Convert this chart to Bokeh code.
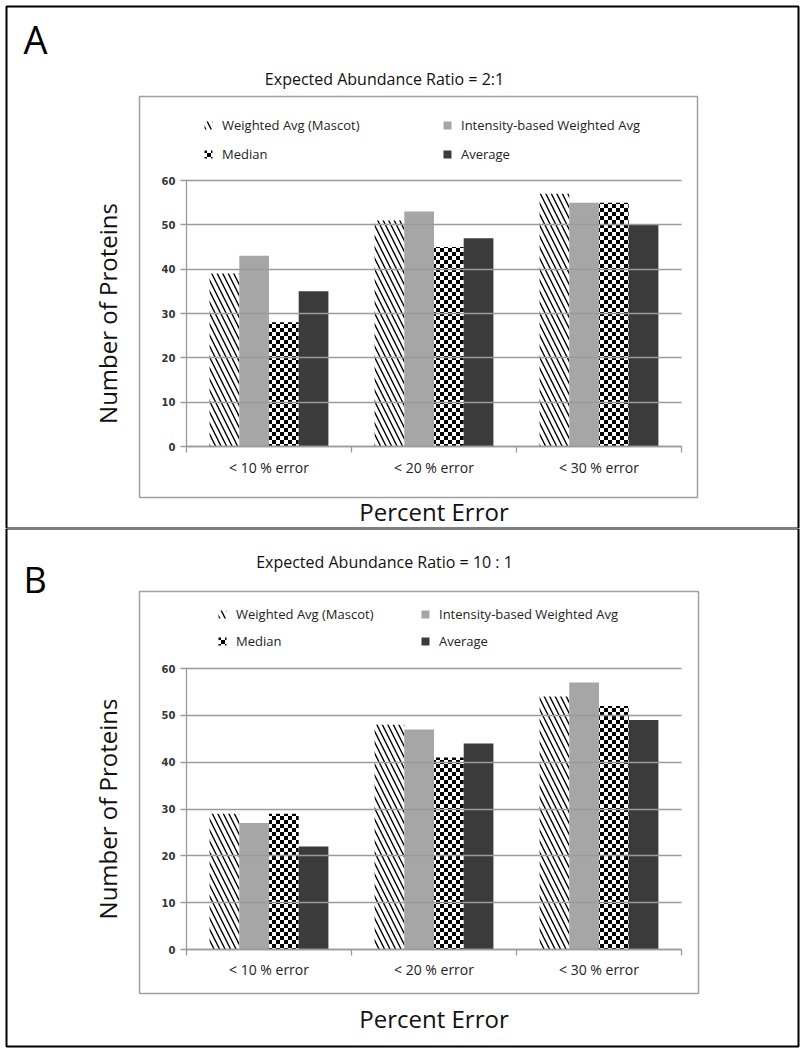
import zlib, struct, base64
from bokeh.plotting import figure
from bokeh.models import (Range1d, LinearAxis, FixedTicker, SingleIntervalTicker,
                          BoxAnnotation, Label, Legend, LegendItem, ColumnDataSource,
                          ImageURLTexture)
from bokeh.transform import dodge
from bokeh.core.properties import value
from bokeh.layouts import column
from bokeh.embed import file_html
from bokeh.resources import INLINE

# ---------------- data ----------------
categories = ["< 10 % error", "< 20 % error", "< 30 % error"]
series_names = ["Weighted Avg (Mascot)", "Intensity-based Weighted Avg", "Median", "Average"]

a_weighted = [39, 51, 57]
a_intensity = [43, 53, 55]
a_median = [28, 45, 55]
a_average = [35, 47, 50]

b_weighted = [29, 48, 54]
b_intensity = [27, 47, 57]
b_median = [29, 41, 52]
b_average = [22, 44, 49]

y_min, y_max, y_step = 0, 60, 10
title_a = "Expected Abundance Ratio = 2:1"
title_b = "Expected Abundance Ratio = 10 : 1"
y_title = "Number of Proteins"
x_title = "Percent Error"

# ---------------- style ----------------
FONT = "Open Sans"
GRID = "#9a9a9a"
W = 804
n_cat = len(categories)
cat_centers = [i + 0.5 for i in range(n_cat)]
cat_bounds = list(range(n_cat + 1))


def checker_png(n=4):
    size = 2 * n
    raw = b""
    for yy in range(size):
        raw += b"\x00"
        for xx in range(size):
            blk = ((xx // n) + (yy // n)) % 2 == 0
            raw += b"\x00\x00\x00\xff" if blk else b"\xff\xff\xff\xff"

    def chunk(t, d):
        c = struct.pack(">I", len(d)) + t + d
        return c + struct.pack(">I", zlib.crc32(t + d) & 0xffffffff)
    png = (b"\x89PNG\r\n\x1a\n"
           + chunk(b"IHDR", struct.pack(">IIBBBBB", size, size, 8, 6, 0, 0, 0))
           + chunk(b"IDAT", zlib.compress(raw))
           + chunk(b"IEND", b""))
    return "data:image/png;base64," + base64.b64encode(png).decode()


CHECKER_URL = checker_png(4)


def make_panel(letter, title, vals, g):
    H = g["height"]
    ppx = (g["x1"] - g["x0"]) / n_cat
    ppy = (g["y0"] - g["y60"]) / (y_max - y_min)
    p = figure(width=W, height=H,
               x_range=Range1d(-g["x0"] / ppx, n_cat + (W - g["x1"]) / ppx),
               y_range=Range1d(y_min - (H - g["y0"]) / ppy, y_max + g["y60"] / ppy),
               x_axis_location=None, y_axis_location=None,
               output_backend="svg", toolbar_location=None,
               min_border=0)
    p.outline_line_color = None
    p.background_fill_color = "white"
    p.border_fill_color = "white"
    p.xgrid.visible = False
    p.ygrid.visible = False

    # y axis (its inner ticks span the plot width and act as grid lines)
    ya = LinearAxis(fixed_location=0, bounds=(y_min, y_max),
                    ticker=SingleIntervalTicker(interval=y_step),
                    minor_tick_line_color=None,
                    major_tick_out=6, major_tick_in=int(round(g["x1"] - g["x0"])),
                    axis_line_color=GRID, axis_line_width=1.3,
                    major_tick_line_color=GRID, major_tick_line_width=1.3,
                    major_label_text_font="DejaVu Sans",
                    major_label_text_font_style="bold",
                    major_label_text_font_size="10px",
                    major_label_text_color="#333333",
                    major_label_standoff=5,
                    axis_label=y_title,
                    axis_label_text_font=FONT,
                    axis_label_text_font_style="normal",
                    axis_label_text_font_size="24px",
                    axis_label_text_color="#111111",
                    axis_label_standoff=g["ylab_standoff"])
    p.add_layout(ya, "left")

    # x axis: labels at category centres, minor ticks at category boundaries
    xa = LinearAxis(fixed_location=0, bounds=(0, n_cat),
                    ticker=FixedTicker(ticks=cat_centers, minor_ticks=cat_bounds),
                    major_label_overrides={c: lab for c, lab in zip(cat_centers, categories)},
                    axis_line_color=GRID, axis_line_width=1.3,
                    major_tick_line_color=None, major_tick_out=0, major_tick_in=0,
                    minor_tick_line_color=GRID, minor_tick_line_width=1.3,
                    minor_tick_out=6, minor_tick_in=0,
                    major_label_text_font=FONT,
                    major_label_text_font_size="14px",
                    major_label_text_color="#222222",
                    major_label_standoff=g["xlab_standoff"],
                    axis_label=x_title,
                    axis_label_text_font=FONT,
                    axis_label_text_font_style="normal",
                    axis_label_text_font_size="24px",
                    axis_label_text_color="#111111",
                    axis_label_standoff=g["xtitle_standoff"])
    p.add_layout(xa, "below")

    src = ColumnDataSource(dict(pos=cat_centers, cat=categories,
                                w=vals[0], i=vals[1], m=vals[2], a=vals[3]))
    bw = 0.18
    r_w = p.vbar(x=dodge("pos", -0.27), top="w", width=bw, source=src,
                 fill_color="white", line_color=None,
                 hatch_pattern="left_diagonal_line", hatch_color="black",
                 hatch_scale=11, hatch_weight=1.4)
    r_i = p.vbar(x=dodge("pos", -0.09), top="i", width=bw, source=src,
                 fill_color="#a6a6a6", line_color=None)
    r_m = p.vbar(x=dodge("pos", 0.09), top="m", width=bw, source=src,
                 fill_color="white", line_color=None,
                 hatch_pattern=value("checker"),
                 hatch_extra={"checker": ImageURLTexture(url=CHECKER_URL)},
                 hatch_color="black", hatch_scale=8)
    r_a = p.vbar(x=dodge("pos", 0.27), top="a", width=bw, source=src,
                 fill_color="#3b3b3b", line_color=None)

    leg = Legend(items=[LegendItem(label=n, renderers=[r])
                        for n, r in zip(series_names, [r_w, r_i, r_m, r_a])],
                 location=g["leg_loc"],
                 orientation="horizontal", ncols=2,
                 glyph_width=10, glyph_height=10,
                 label_standoff=9,
                 label_width=g["leg_label_w"], label_height=10,
                 spacing=g["leg_spacing"], padding=0, margin=0,
                 border_line_color=None, background_fill_alpha=0,
                 label_text_font=FONT, label_text_font_size="13px",
                 label_text_color="#222222")
    p.add_layout(leg, "center")

    # boxes (screen units from the bottom-left corner of the figure)
    ib, ob = g["ib"], g["ob"]
    p.add_layout(BoxAnnotation(left=ib[0], right=ib[1], bottom=ib[2], top=ib[3],
                               left_units="screen", right_units="screen",
                               bottom_units="screen", top_units="screen",
                               fill_color=None, fill_alpha=0,
                               line_color="#a0a0a0", line_alpha=1.0, line_width=1.5,
                               level="underlay"))
    p.add_layout(BoxAnnotation(left=ob[0], right=ob[1], bottom=ob[2], top=ob[3],
                               left_units="screen", right_units="screen",
                               bottom_units="screen", top_units="screen",
                               fill_color=None, fill_alpha=0,
                               line_color="black", line_alpha=1.0, line_width=2))

    p.add_layout(Label(x=g["letter"][0], y=g["letter"][1], x_units="screen", y_units="screen",
                       text=letter, text_font=FONT, text_font_size=g["letter_size"],
                       text_color="black", text_baseline="alphabetic", text_align="left"))
    p.add_layout(Label(x=g["title"][0], y=g["title"][1], x_units="screen", y_units="screen",
                       text=title, text_font=FONT, text_font_size="16px",
                       text_color="#111111", text_baseline="alphabetic", text_align="center"))
    return p


geo_a = dict(height=528, x0=186, x1=681, y0=446, y60=180,
             ylab_standoff=35, xlab_standoff=5, xtitle_standoff=15,
             leg_loc=(203, 365), leg_label_w=209, leg_spacing=11,
             ib=(139, 697, 31, 432), ob=(6, 798, 0, 522),
             letter=(23, 490), letter_size="38px", title=(384, 450))
geo_b = dict(height=522, x0=186, x1=681, y0=421, y60=140,
             ylab_standoff=35, xlab_standoff=4, xtitle_standoff=20,
             leg_loc=(217, 400), leg_label_w=175, leg_spacing=9,
             ib=(139, 698, 57, 459), ob=(6, 798, 4, 522),
             letter=(23, 471), letter_size="36px", title=(384, 489))

pa = make_panel("A", title_a, [a_weighted, a_intensity, a_median, a_average], geo_a)
pb = make_panel("B", title_b, [b_weighted, b_intensity, b_median, b_average], geo_b)

layout = column(pa, pb, spacing=0)
open("out.html", "w").write(file_html(layout, INLINE))
